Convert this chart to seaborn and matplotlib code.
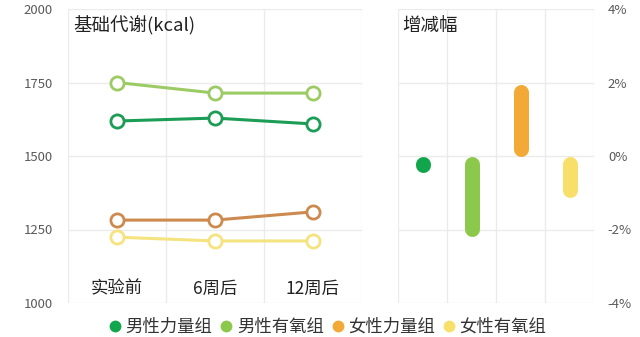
import numpy as np
import pandas as pd
import matplotlib
matplotlib.use("Agg")
import matplotlib.pyplot as plt
from matplotlib.lines import Line2D
import seaborn as sns

# ---- data ----
times = ["实验前", "6周后", "12周后"]
groups = ["男性力量组", "男性有氧组", "女性力量组", "女性有氧组"]
male_strength = [1619, 1629, 1609]
male_aerobic = [1750, 1714, 1714]
female_strength = [1282, 1282, 1310]
female_aerobic = [1224, 1211, 1211]
change_pct = [-0.45, -2.2, 1.95, -1.12]
left_yticks = [1000, 1250, 1500, 1750, 2000]
right_yticks = [-4, -2, 0, 2, 4]
right_ylabels = ["-4%", "-2%", "0%", "2%", "4%"]

line_colors = ["#1b9d55", "#9ccb64", "#cc8a4f", "#f4e37e"]
bar_colors = ["#12a64c", "#8cc84b", "#f2a935", "#f7df6a"]

sns.set_theme(style="white")
plt.rcParams["font.family"] = ["Noto Sans CJK SC", "DejaVu Sans"]

df = pd.DataFrame({
    "time": times * 4,
    "group": sum([[g] * 3 for g in groups], []),
    "value": male_strength + male_aerobic + female_strength + female_aerobic,
})

fig = plt.figure(figsize=(6.4, 3.37), dpi=100)
W, H = 640, 337
axL = fig.add_axes([68 / W, 1 - 303 / H, (362 - 68) / W, (303 - 9) / H])
axR = fig.add_axes([398 / W, 1 - 303 / H, (594 - 398) / W, (303 - 9) / H])

grid_c = "#ebebeb"
tick_c = "#5a5a5a"

# ---- left panel ----
sns.lineplot(data=df, x="time", y="value", hue="group", palette=line_colors,
             marker="o", markersize=9.5, linewidth=2.2, ax=axL, legend=False,
             sort=False)
for ln in axL.lines:
    c = ln.get_color()
    ln.set_markerfacecolor("white")
    ln.set_markeredgecolor(c)
    ln.set_markeredgewidth(2.0)

axL.set_xlim(-0.5, 2.5)
axL.set_ylim(1000, 2000)
axL.set_yticks(left_yticks)
axL.set_yticklabels([str(v) for v in left_yticks])
axL.set_xticks(range(len(times)))
axL.set_xticklabels(times)
axL.set_xticks([-0.5, 0.5, 1.5, 2.5], minor=True)
axL.set_xlabel("")
axL.set_ylabel("")
axL.tick_params(axis="x", which="both", length=0, pad=-17, labelsize=12.5,
                labelcolor="#222222")
axL.tick_params(axis="y", length=0, pad=11, labelsize=9.5, labelcolor=tick_c)
axL.grid(True, axis="y", color=grid_c, lw=1)
axL.grid(True, axis="x", which="minor", color=grid_c, lw=1)
axL.grid(False, axis="x", which="major")
for s in axL.spines.values():
    s.set_visible(False)
axL.text(0.017, 0.922, "基础代谢(kcal)", transform=axL.transAxes,
         fontsize=13.3, color="#222222", va="baseline", ha="left")

# ---- right panel ----
axR.set_xlim(-0.5, 3.5)
axR.set_ylim(-4, 4)
lw_px = 15
lw_pt = lw_px * 72 / fig.dpi
px_per_unit = (303 - 9) / 8.0
r = (lw_px / 2) / px_per_unit
for i, v in enumerate(change_pct):
    s = np.sign(v)
    a, b = s * r, v - s * r
    if abs(v) < 2 * r:
        a = b = v / 2
        axR.plot([i], [a], marker="o", ms=lw_pt, color=bar_colors[i], mew=0)
    else:
        axR.plot([i, i], [a, b], color=bar_colors[i], lw=lw_pt,
                 solid_capstyle="round")
axR.set_yticks(right_yticks)
axR.set_yticklabels(right_ylabels)
axR.yaxis.tick_right()
axR.set_xticks([])
axR.set_xticks([-0.5, 0.5, 1.5, 2.5, 3.5], minor=True)
axR.tick_params(axis="both", which="both", length=0)
axR.tick_params(axis="y", pad=10, labelsize=9.5, labelcolor=tick_c)
axR.grid(True, axis="y", color=grid_c, lw=1)
axR.grid(True, axis="x", which="minor", color=grid_c, lw=1)
axR.set_axisbelow(True)
for s in axR.spines.values():
    s.set_visible(False)
axR.text(0.02, 0.922, "增减幅", transform=axR.transAxes,
         fontsize=13.3, color="#222222", va="baseline", ha="left")

# ---- legend ----
handles = [Line2D([0], [0], marker="o", ls="", ms=8.5, mew=0, color=c)
           for c in bar_colors]
fig.legend(handles, groups, loc="center", bbox_to_anchor=(328 / W, 1 - 327 / H),
           ncol=4, frameon=False, handlelength=0.6, handletextpad=0.3,
           columnspacing=0.5, fontsize=12.5, labelcolor="#333333",
           borderaxespad=0, borderpad=0)

fig.savefig("out.png", dpi=100)
